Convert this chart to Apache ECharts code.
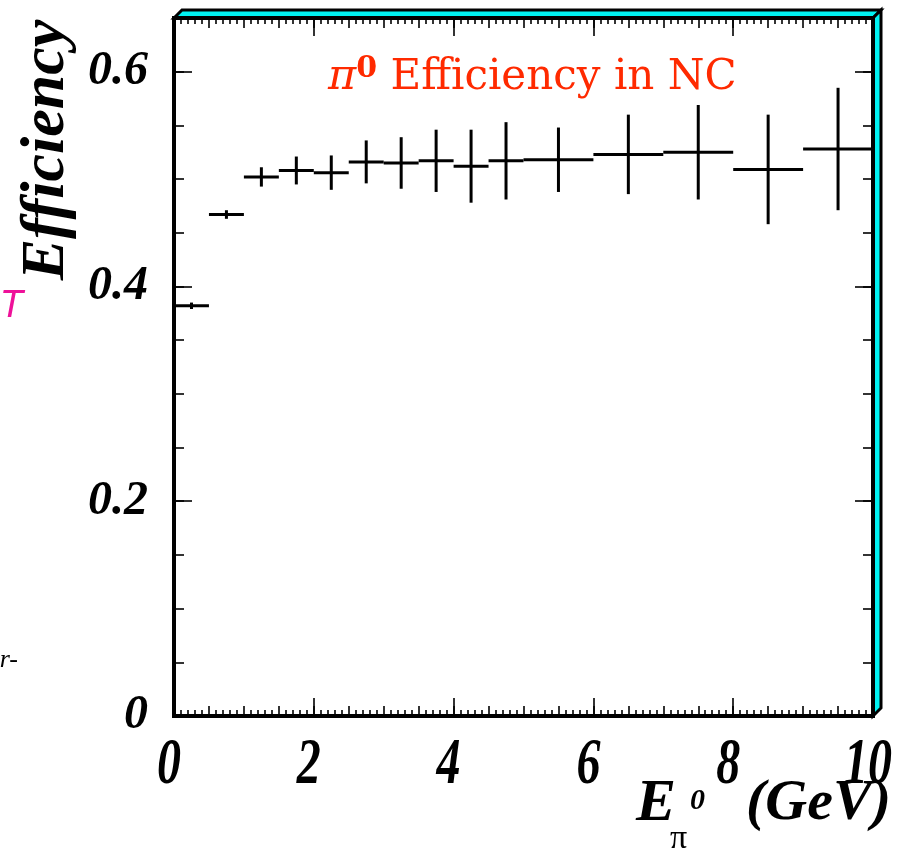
<!DOCTYPE html>
<html>
<head>
<meta charset="utf-8">
<script src="https://cdn.jsdelivr.net/npm/echarts@6/dist/echarts.min.js"></script>
<style>
html,body{margin:0;padding:0;background:#fff;}
#chart{width:913px;height:850px;}
</style>
</head>
<body>
<div id="chart"></div>
<script>
// ---- data ----
const binLow  = [0.0, 0.5, 1.0, 1.5, 2.0, 2.5, 3.0, 3.5, 4.0, 4.5, 5.0, 6.0, 7.0, 8.0, 9.0];
const binHigh = [0.5, 1.0, 1.5, 2.0, 2.5, 3.0, 3.5, 4.0, 4.5, 5.0, 6.0, 7.0, 8.0, 9.0, 10.0];
const eff     = [0.382, 0.467, 0.502, 0.508, 0.506, 0.516, 0.515, 0.517, 0.512, 0.517, 0.518, 0.523, 0.525, 0.509, 0.528];
const effErr  = [0.003, 0.004, 0.009, 0.013, 0.016, 0.020, 0.024, 0.029, 0.034, 0.036, 0.030, 0.037, 0.044, 0.051, 0.057];
const xTickValues = [0, 2, 4, 6, 8, 10];
const xTickLabels = ['0', '2', '4', '6', '8', '10'];
const yTickLabels = ['0', '0.2', '0.4', '0.6'];

const chart = echarts.init(document.getElementById('chart'), null, {renderer: 'canvas'});

const G = {left: 174, top: 18, width: 699, height: 698};
const R = G.left + G.width, B = G.top + G.height;
const labelFont = {fontFamily: 'Liberation Serif', fontWeight: 'bold', fontStyle: 'italic', fontSize: 48, color: '#000'};
const TICK = {color: '#000', width: 1.6};

function near(v, step) { return Math.abs(v / step - Math.round(v / step)) < 1e-6; }

function xAxisDef(grid, pos, interval, tickLen, minor) {
  return {
    gridIndex: grid, type: 'value', position: pos, min: 0, max: 10, interval: interval,
    axisLine: {show: false, onZero: false}, splitLine: {show: false},
    axisTick: {show: true, inside: true, length: tickLen, lineStyle: TICK},
    minorTick: minor ? {show: true, splitNumber: 5, length: 6, lineStyle: TICK} : {show: false},
    axisLabel: {show: false}
  };
}
function yAxisDef(grid, pos, interval, tickLen, showLabel) {
  return {
    gridIndex: grid, type: 'value', position: pos, min: 0, max: 0.65, interval: interval,
    axisLine: {show: false, onZero: false}, splitLine: {show: false},
    axisTick: {show: true, inside: true, length: tickLen, lineStyle: TICK},
    axisLabel: showLabel ? Object.assign({
      show: true, margin: 26, showMaxLabel: false,
      formatter: function (v) { return (near(v, 0.2) && v < 0.61) ? yTickLabels[Math.round(v / 0.2)] : ''; }
    }, labelFont) : {show: false}
  };
}

const seriesData = binLow.map((lo, i) => [lo, binHigh[i], eff[i], effErr[i]]);
const gridBox = {left: G.left, top: G.top, width: G.width, height: G.height, containLabel: false};

const option = {
  animation: false,
  backgroundColor: '#fff',
  grid: [Object.assign({}, gridBox), Object.assign({}, gridBox)],
  xAxis: [
    xAxisDef(0, 'bottom', 0.5, 10, true),
    xAxisDef(0, 'top', 0.5, 10, true),
    xAxisDef(1, 'bottom', 2, 18, false),
    xAxisDef(1, 'top', 2, 18, false)
  ],
  yAxis: [
    yAxisDef(0, 'left', 0.05, 10, true),
    yAxisDef(0, 'right', 0.05, 10, false),
    yAxisDef(1, 'left', 0.2, 18, false),
    yAxisDef(1, 'right', 0.2, 18, false)
  ],
  series: [{
    type: 'custom',
    xAxisIndex: 0, yAxisIndex: 0,
    data: seriesData,
    encode: {x: [0, 1], y: [2]},
    clip: false,
    renderItem: function (params, api) {
      const x0 = api.value(0), x1 = api.value(1), y = api.value(2), e = api.value(3);
      const xm = (x0 + x1) / 2;
      const pL = api.coord([x0, y]), pR = api.coord([x1, y]);
      const pT = api.coord([xm, y + e]), pB = api.coord([xm, y - e]);
      const st = {stroke: '#000', lineWidth: 3};
      return {
        type: 'group',
        children: [
          {type: 'line', shape: {x1: pL[0], y1: pL[1], x2: pR[0], y2: pR[1]}, style: st},
          {type: 'line', shape: {x1: pT[0], y1: pT[1], x2: pB[0], y2: pB[1]}, style: st}
        ]
      };
    }
  }]
};
chart.setOption(option);

// x tick labels placed through the axis scale (drawn taller, as in the reference)
const xLabelGraphics = xTickValues.map(function (v, i) {
  const px = chart.convertToPixel({xAxisIndex: 0}, v) - 5;
  return {type: 'text', z: 102, x: px, y: 766, scaleY: 1.36,
    style: {text: xTickLabels[i], fontFamily: 'Liberation Serif', fontWeight: 'bold', fontStyle: 'italic',
      fontSize: 48, fill: '#000', align: 'center', verticalAlign: 'middle'}};
});

chart.setOption({
  graphic: [
    // 3D frame: top and right bevel faces
    {type: 'polygon', z: 100, shape: {points: [[G.left, G.top], [G.left + 8, G.top - 8], [R + 8, G.top - 8], [R, G.top]]},
      style: {fill: '#00f2f2', stroke: '#000', lineWidth: 3}},
    {type: 'polygon', z: 100, shape: {points: [[R, G.top], [R + 8, G.top - 8], [R + 8, B - 8], [R, B]]},
      style: {fill: '#00f2f2', stroke: '#000', lineWidth: 3}},
    {type: 'rect', z: 101, shape: {x: G.left, y: G.top, width: G.width, height: G.height},
      style: {fill: null, stroke: '#000', lineWidth: 4}},
    // title
    {type: 'text', z: 102, left: 328, top: 54,
      style: {text: '{pi|π}{sup|0}{t| Efficiency in NC}',
        rich: {
          pi: {fontFamily: 'DejaVu Serif', fontStyle: 'italic', fontSize: 43, fill: '#ff2a00', color: '#ff2a00'},
          sup: {fontFamily: 'DejaVu Serif', fontWeight: 'bold', fontSize: 30, fill: '#ff2a00', color: '#ff2a00', verticalAlign: 'top', padding: [0, 0, 18, 0]},
          t: {fontFamily: 'DejaVu Serif', fontSize: 42, fill: '#ff2a00', color: '#ff2a00'}
        }}},
    // y axis title
    {type: 'text', z: 102, x: 47, y: 150, rotation: Math.PI / 2,
      style: {text: 'Efficiency', fontFamily: 'Liberation Serif', fontWeight: 'bold', fontStyle: 'italic', fontSize: 62,
        fill: '#000', align: 'center', verticalAlign: 'middle'}},
    // x axis title pieces
    {type: 'text', z: 102, x: 636, y: 804,
      style: {text: 'E', fontFamily: 'Liberation Serif', fontWeight: 'bold', fontStyle: 'italic', fontSize: 60, fill: '#000', verticalAlign: 'middle'}},
    {type: 'text', z: 102, x: 670, y: 839,
      style: {text: 'π', fontFamily: 'Liberation Serif', fontSize: 34, fill: '#000', verticalAlign: 'middle'}},
    {type: 'text', z: 102, x: 690, y: 801,
      style: {text: '0', fontFamily: 'Liberation Serif', fontWeight: 'bold', fontStyle: 'italic', fontSize: 30, fill: '#000', verticalAlign: 'middle'}},
    {type: 'text', z: 102, x: 746, y: 804,
      style: {text: '(GeV)', fontFamily: 'Liberation Serif', fontWeight: 'bold', fontStyle: 'italic', fontSize: 58, fill: '#000', verticalAlign: 'middle'}},
    // clipped fragments of neighbouring text at the left edge
    {type: 'text', z: 102, x: 23, y: 306,
      style: {text: 'T', fontFamily: 'Liberation Sans', fontStyle: 'italic', fontSize: 38, fill: '#ee1199', align: 'right', verticalAlign: 'middle'}},
    {type: 'text', z: 102, x: 18, y: 660,
      style: {text: 'r-', fontFamily: 'Liberation Serif', fontStyle: 'italic', fontSize: 26, fill: '#000', align: 'right', verticalAlign: 'middle'}}
  ].concat(xLabelGraphics)
});
</script>
</body>
</html>
